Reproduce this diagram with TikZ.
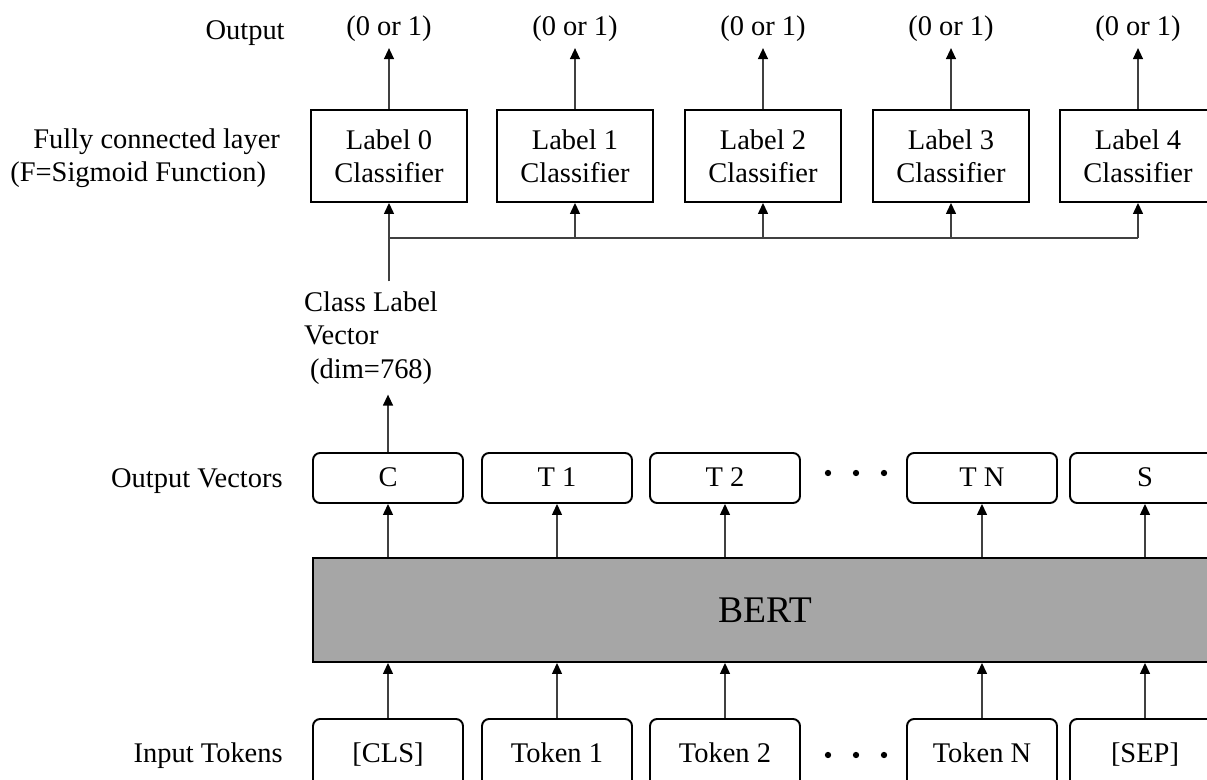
\documentclass[tikz,border=0pt]{standalone}
\usepackage{fontspec}
\setmainfont{Liberation Serif}
\usetikzlibrary{arrows.meta,positioning}

\tikzset{
  clsbox/.style={draw, line width=1.1pt, minimum width=3.12cm, minimum height=1.84cm, align=center},
  vecbox/.style={draw, line width=1.1pt, rounded corners=0.14cm, minimum width=3cm, minimum height=1cm, text height=1em, text depth=0pt},
  tokbox/.style={vecbox, minimum height=1.4cm},
  bertbox/.style={draw, line width=1.1pt, fill=black!35, minimum width=18.08cm, minimum height=2.08cm, font=\fontsize{21.4}{24}\selectfont},
  sidelabel/.style={inner sep=0pt},
  conn/.style={line width=0.75pt, draw=black!75},
  arr/.style={conn, -{Triangle[length=0.22cm,width=0.2cm,color=black]}},
}

\begin{document}
\begin{tikzpicture}[x=0.02cm, y=-0.02cm, font=\fontsize{16.2}{19}\selectfont]

    \useasboundingbox (0,0) rectangle (1207,780);

    % Side labels
    \node[sidelabel, anchor=east] (outlbl) at (285,33) {Output};
    \node[sidelabel, anchor=west, align=left] (fcllbl) at (10,158) {\hspace*{0.46cm}Fully connected layer\\(F=Sigmoid Function)};
    \node[sidelabel, anchor=east] (veclbl) at (283,481) {Output Vectors};
    \node[sidelabel, anchor=east] (toklbl) at (283,756) {Input Tokens};

    % Classifiers and their outputs
    \foreach \x/\i in {389/0, 575/1, 763/2, 951/3, 1138/4} {
        \node[clsbox] (cls\i) at (\x,156) {Label \i\\Classifier};
        \node (out\i) at (\x,29) {(0 or 1)};
        \draw[arr] (cls\i) -- (out\i);
    }

    % BERT block
    \node[bertbox] (bert) at (765,610) {BERT};

    % Output vectors and input tokens
    \foreach \x/\n/\v/\t in {388/c/C/{[CLS]}, 557/t1/T 1/Token 1, 725/t2/T 2/Token 2, 982/tn/T N/Token N, 1145/s/S/{[SEP]}} {
        \node[vecbox] (vec\n) at (\x,478) {\v};
        \node[tokbox] (tok\n) at (\x,754) {\t};
        \draw[arr] (tok\n) -- (tok\n |- bert.south);
        \draw[arr] (vec\n |- bert.north) -- (vec\n);
    }

    % Dots
    \foreach \y in {473,755} {
        \foreach \x in {828,856,884} {
            \fill (\x,\y) circle (1.8pt);
        }
    }

    % Class label vector to the classifiers
    \node[inner xsep=0pt, inner ysep=0.2cm, align=left] (cv) at (371,338) {Class Label\\Vector\\\hspace*{0.12cm}(dim=768)};
    \coordinate (join) at (389,238);
    \draw[arr] (vecc) -- (vecc |- cv.south);
    \draw[conn] (cls0 |- cv.north) -- (join) -- (join -| cls4);
    \foreach \i in {0,...,4} {
        \draw[arr] (join -| cls\i) -- (cls\i.south);
    }

\end{tikzpicture}
\end{document}
